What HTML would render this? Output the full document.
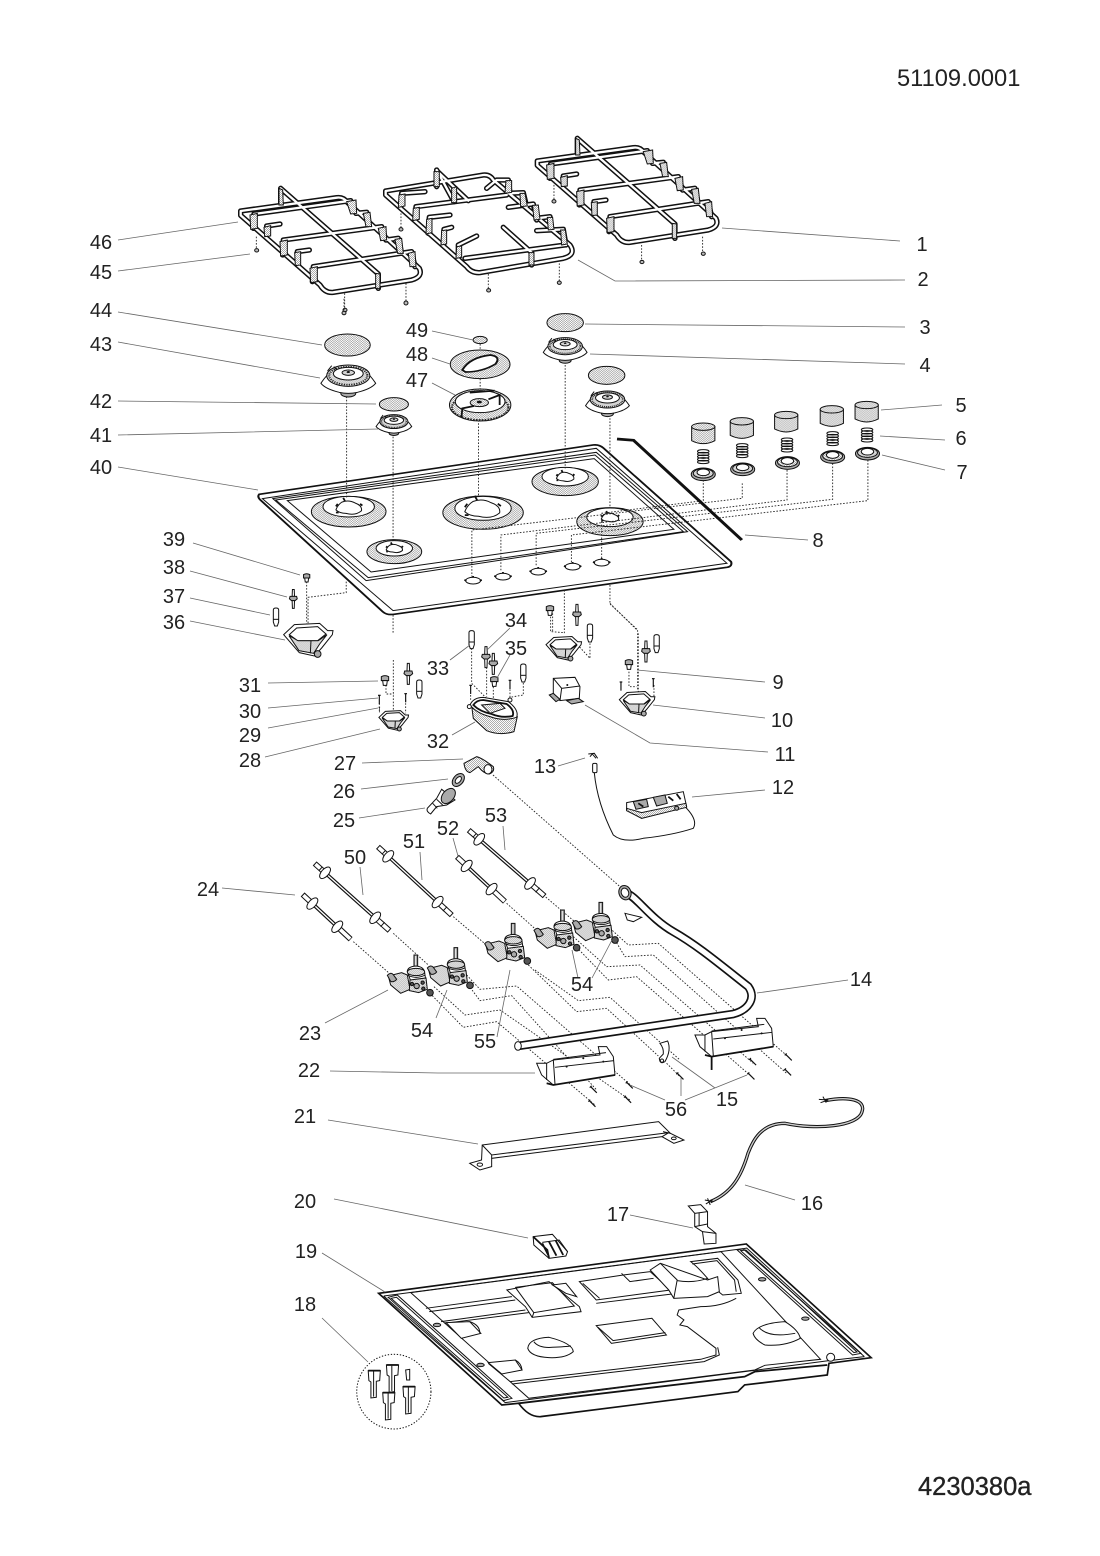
<!DOCTYPE html>
<html><head><meta charset="utf-8"><title>51109.0001</title>
<style>
html,body{margin:0;padding:0;background:#fff}
svg{display:block}
text{font-family:"Liberation Sans",sans-serif;fill:#222;font-size:20px;text-anchor:middle}
.t{font-size:23.7px;text-anchor:start}
.ll{stroke:#666;stroke-width:.8;fill:none}
.d{fill:none;stroke:#222;stroke-width:.9;stroke-dasharray:1.6 1.6;vector-effect:non-scaling-stroke}
.k{stroke:#111;stroke-width:1;vector-effect:non-scaling-stroke;fill:#fff}
.n{stroke:#111;stroke-width:1;vector-effect:non-scaling-stroke;fill:none}
.b{stroke:#111;stroke-width:1.8;vector-effect:non-scaling-stroke;fill:none}
.s{stroke:#111;stroke-width:1;vector-effect:non-scaling-stroke;fill:url(#st)}
.g{stroke:#111;stroke-width:1;vector-effect:non-scaling-stroke;fill:#aaa}
.x{stroke:#111;stroke-width:1;vector-effect:non-scaling-stroke;fill:#555}
</style></head><body>
<svg width="1100" height="1556" viewBox="0 0 1100 1556" xmlns="http://www.w3.org/2000/svg">
<defs>
<pattern id="st" patternUnits="userSpaceOnUse" width="6" height="6"><rect width="6" height="6" fill="#fff"/><rect width="3" height="3" fill="#aaa"/><rect x="3" y="3" width="3" height="3" fill="#aaa"/></pattern>

<g id="gL" fill="none" stroke-linejoin="round" stroke-linecap="round">
<path d="M32,243 L320,203 Q340,200 352,217 L568,415 Q580,440 545,450 L310,487 Q285,490 270,465 L32,256Z"/>
<path d="M70,295 L72,252 L362,212 L378,250"/>
<path d="M158,375 L160,330 L455,290 L468,330"/>
<path d="M247,455 L250,410 L545,365 L555,410"/>
<path d="M110,315 L110,288 L150,282"/>
<path d="M202,405 L202,365 L238,360"/>
<path d="M378,250 L410,247 L420,290"/>
<path d="M468,330 L505,325 L515,370"/>
<path d="M152,225 L152,175 L445,432 L445,475"/>
</g>
<g id="legL">
<path class="s" d="M60,255 L82,250 L82,295 L62,298Z M150,335 L172,330 L172,375 L152,378Z M240,415 L262,410 L262,455 L242,458Z M350,215 L378,210 L380,250 L362,252Z M445,295 L468,290 L470,330 L452,332Z M535,370 L555,365 L558,410 L540,410Z M102,292 L122,287 L122,318 L104,320Z M194,368 L212,365 L212,405 L196,407Z M147,225 L147,175 L158,180 L160,225Z M437,430 L450,432 L450,475 L437,475Z M400,250 L420,247 L425,290 L408,290Z M495,328 L515,325 L520,370 L503,370Z"/>
</g>

<g id="gM" fill="none" stroke-linejoin="round" stroke-linecap="round">
<path d="M467,183 L760,135 Q780,133 790,150 L1020,345 Q1040,375 1000,385 L750,428 Q725,430 710,410 L467,195Z"/>
<path d="M512,230 L515,190 L585,185 M620,120 L672,215 M770,175 L800,150 L835,150 L840,190"/>
<path d="M555,270 L558,230 L830,195 M835,190 L880,188 L890,230"/>
<path d="M595,310 L598,262 L660,255 M835,232 L910,222 L920,270"/>
<path d="M640,345 L642,298 L665,292 M920,265 L960,260 L965,300 M920,302 L1000,298 L1008,345"/>
<path d="M685,385 L685,345 L740,318 M705,385 L1005,345"/>
<path d="M620,170 L620,122 L715,212"/>
<path d="M820,292 L905,368 L905,405"/>
</g>
<g id="legM">
<path class="s" d="M505,232 L525,228 L525,192 L507,195Z M548,272 L568,268 L568,232 L550,235Z M588,312 L606,308 L606,265 L590,268Z M633,345 L650,342 L650,300 L635,302Z M678,385 L695,382 L695,348 L680,350Z M612,170 L628,170 L628,125 L612,125Z M665,218 L680,218 L680,170 L665,175Z M897,405 L912,405 L912,368 L897,368Z M825,190 L845,187 L845,152 L828,152Z M872,230 L892,228 L885,190 L870,190Z M912,270 L930,268 L925,225 L908,226Z M955,300 L972,298 L968,262 L952,262Z M995,345 L1012,342 L1006,300 L992,300Z"/>
</g>

<g id="burner">
<ellipse cx="0" cy="45" rx="18" ry="11" class="g"/>
<path class="k" d="M-66,15 Q-55,32 -22,42 Q0,48 22,42 Q55,32 66,15 Q60,3 52,-8 L-52,-8 Q-60,3 -66,15Z"/>
<ellipse cx="0" cy="-8" rx="52" ry="32" class="s"/>
<ellipse cx="0" cy="-8" rx="46" ry="27" fill="none" stroke="#222" stroke-width="5" stroke-dasharray="3 3"/>
<ellipse cx="0" cy="-14" rx="36" ry="19" class="k"/>
<ellipse cx="0" cy="-17" rx="15" ry="8" class="s"/>
<ellipse cx="0" cy="-19" rx="4" ry="3" fill="#111"/>
<path class="n" d="M-50,-22 L-40,-38 M-35,-35 L-28,-26"/>
</g>

<g id="knob">
<path class="s" d="M-28,-22 L-28,20 Q0,38 28,20 L28,-22Z"/>
<ellipse cx="0" cy="-22" rx="28" ry="11" class="s"/>
</g>
<g id="spring" fill="none">
<ellipse cx="0" cy="-14" rx="14" ry="5" class="n"/><ellipse cx="0" cy="-6" rx="14" ry="5" class="n"/><ellipse cx="0" cy="2" rx="14" ry="5" class="n"/><ellipse cx="0" cy="10" rx="14" ry="5" class="n"/><ellipse cx="0" cy="18" rx="14" ry="5" class="n"/>
</g>
<g id="kbase">
<ellipse cx="0" cy="3" rx="29" ry="19" class="g"/>
<ellipse cx="0" cy="0" rx="24" ry="14" class="s"/>
<ellipse cx="0" cy="-3" rx="15" ry="10" class="k"/>
</g>

<g id="flame">
<path class="k" d="M-28,6 Q-24,-6 -15,-12 Q0,-18 14,-10 Q30,-4 28,8 Q15,20 -6,14 Q-20,14 -28,6Z"/>
<path class="b" d="M-24,-8 L-28,-2 M25,-8 L30,-4 M-12,-22 L-8,-14 M-28,12 L-22,12"/>
</g>
<g id="hole">
<ellipse cx="0" cy="0" rx="18" ry="10" class="k"/>
<path class="b" d="M-21,-2 L-16,0 M21,-2 L16,0 M0,-14 L0,-9"/>
</g>

<g id="cup">
<path class="k" d="M-72,-18 L-25,36 L20,46 L42,22 L74,-18 L76,-30 L60,-30 L36,-52 L-40,-48Z"/>
<path class="s" d="M-56,-15 L-26,30 L18,38 L36,10 L58,-18 L32,0 L-28,0Z"/>
<path class="k" d="M-55,-18 L-33,-38 L30,-42 L55,-20 L30,0 L-30,0Z"/>
<path class="n" d="M10,0 L8,38"/>
<circle cx="30" cy="40" r="10" class="g"/>
</g>
<g id="elec">
<path class="k" d="M-3,-35 L3,-35 L4,-12 L-4,-12Z"/>
<path class="g" d="M-11,-12 L11,-12 L13,-4 L6,2 L-6,2 L-13,-4Z"/>
<path class="k" d="M-4,2 L4,2 L3,28 L-3,28Z"/>
</g>
<g id="cap"><path class="k" d="M-8,-22 Q-8,-28 0,-28 Q8,-28 8,-22 L8,14 L4,26 L-4,26 L-8,14Z"/><path class="n" d="M-8,6 L8,6"/></g>
<g id="bolt"><path class="g" d="M-11,-12 Q0,-18 11,-12 L11,0 L-11,0Z"/><path class="k" d="M-7,0 L7,0 L5,14 L-5,14Z"/></g>
<g id="scr"><path d="M0,-14 L0,12" stroke="#111" stroke-width="3.5"/><path d="M-4,-14 L4,-14" stroke="#111" stroke-width="3.5"/></g>

<g id="pL" stroke-linejoin="round">
<path d="M8,0 L55,0" stroke="#111" stroke-width="17"/><path d="M11,0 L53,0" stroke="#fff" stroke-width="11"/>
<path d="M55,0 L255,0" stroke="#111" stroke-width="11"/><path d="M55,0 L255,0" stroke="#fff" stroke-width="4"/>
<path d="M255,0 L310,0" stroke="#111" stroke-width="17"/><path d="M257,0 L307,0" stroke="#fff" stroke-width="11"/>
<ellipse cx="50" cy="0" rx="11" ry="21" class="k"/><ellipse cx="252" cy="0" rx="11" ry="21" class="k"/>
<path d="M282,-9 L282,9 M32,-8 L32,8" class="n"/>
</g>
<g id="pS" stroke-linejoin="round">
<path d="M8,0 L45,0" stroke="#111" stroke-width="17"/><path d="M11,0 L43,0" stroke="#fff" stroke-width="11"/>
<path d="M45,0 L150,0" stroke="#111" stroke-width="11"/><path d="M45,0 L150,0" stroke="#fff" stroke-width="4"/>
<path d="M150,0 L205,0" stroke="#111" stroke-width="17"/><path d="M152,0 L203,0" stroke="#fff" stroke-width="11"/>
<ellipse cx="48" cy="0" rx="11" ry="21" class="k"/><ellipse cx="150" cy="0" rx="11" ry="21" class="k"/>
</g>

<g id="valve">
<rect x="22" y="-75" width="11" height="38" class="g"/>
<path d="M27,-72 L27,-38" stroke="#fff" stroke-width="2"/>
<path class="k" d="M2,-25 Q2,-40 28,-42 Q52,-40 54,-22 L58,5 L14,8Z"/>
<ellipse cx="28" cy="-24" rx="26" ry="11" class="s"/>
<path class="n" d="M4,-14 Q28,-2 54,-14"/>
<path class="s" d="M-55,-12 L-15,-22 L2,-15 L10,28 L-18,40 L-48,15Z"/>
<path class="g" d="M-58,-14 Q-48,-25 -40,-16 L-30,-2 Q-38,8 -48,4Z"/>
<path class="s" d="M10,0 L58,-6 L62,28 L36,38 L8,32Z"/>
<circle cx="30" cy="18" r="8" class="g"/><circle cx="48" cy="8" r="5" class="x"/><circle cx="16" cy="12" r="5" class="x"/><circle cx="50" cy="26" r="5" class="x"/>
<circle cx="70" cy="38" r="10" class="x"/>
</g>

<g id="brk">
<path class="k" d="M740,700 L770,700 L790,690 L930,675 L925,650 L950,650 L970,680 L975,735 L790,765 L755,735Z"/>
<path class="n" d="M790,690 L795,762 M770,700 L770,750 M795,712 L972,692 M790,688 L948,668"/>
<circle cx="830" cy="710" r="3" fill="#111"/><circle cx="940" cy="695" r="3" fill="#111"/><circle cx="880" cy="685" r="3" fill="#111"/>
<path class="b" d="M770,760 L790,765 L975,735"/>
</g>
<g id="conn">
<path class="k" d="M0,0 L36,0 L34,30 L24,32 L24,80 L8,82 L8,34 L2,30Z"/>
<path class="n" d="M16,2 L16,78"/>
<path class="b" d="M0,0 L36,0"/>
</g>
</defs>
<rect width="1100" height="1556" fill="#fff"/>

<!-- GRATES -->
<g transform="translate(230,130) scale(.3333)">
<use href="#gL" stroke="#111" stroke-width="16"/><use href="#gL" stroke="#fff" stroke-width="7"/><use href="#legL"/>
<g transform="translate(890,-150)"><use href="#gL" stroke="#111" stroke-width="16"/><use href="#gL" stroke="#fff" stroke-width="7"/><use href="#legL"/></g>
<use href="#gM" stroke="#111" stroke-width="16"/><use href="#gM" stroke="#fff" stroke-width="7"/><use href="#legM"/>
<path class="d" d="M79,320V358 M344,490V540 M528,460V515 M513,250V295 M775,432V478 M988,400V455 M972,155V212 M1235,345V392 M1418,320V368"/>
<g fill="#bbb" stroke="#111" stroke-width="3">
<ellipse cx="80" cy="361" rx="6" ry="5"/><ellipse cx="528" cy="519" rx="6" ry="6"/><ellipse cx="513" cy="298" rx="6" ry="5"/><ellipse cx="776" cy="481" rx="6" ry="5"/><ellipse cx="988" cy="458" rx="6" ry="5"/><ellipse cx="972" cy="214" rx="6" ry="5"/><ellipse cx="1236" cy="396" rx="6" ry="5"/><ellipse cx="1420" cy="371" rx="6" ry="5"/>
</g>
</g>
<g fill="#bbb" stroke="#111" stroke-width="1"><ellipse cx="345" cy="310" rx="2" ry="1.7"/><ellipse cx="344" cy="313" rx="2" ry="1.7"/></g>
<path class="d" d="M344,310V298"/>

<!-- HOB AREA (zoom-2 space) -->
<g transform="translate(250,300) scale(.4147,.3333)">
<path d="M22,583 L828,435 Q842,433 852,444 L1160,785 Q1164,799 1150,802 L347,943 Q330,946 320,935 L25,600 Q17,590 22,583Z" fill="#fff" stroke="#111" stroke-width="5"/>
<path class="n" d="M30,596 L835,445 L1150,790 L345,932Z"/>
<path class="n" d="M55,596 L835,457 L1055,695 L280,842Z"/>
<path class="n" d="M62,600 L832,465 L1045,695 L285,833Z"/>
<path class="n" d="M90,602 L830,476 L1022,688 L292,816Z"/>
<g>
<ellipse cx="238" cy="635" rx="90" ry="46" class="s"/><ellipse cx="238" cy="620" rx="62" ry="31" class="k"/>
<ellipse cx="348" cy="755" rx="66" ry="36" class="s"/><ellipse cx="348" cy="745" rx="44" ry="23" class="k"/>
<ellipse cx="562" cy="638" rx="97" ry="50" class="s"/><ellipse cx="562" cy="625" rx="68" ry="36" class="k"/>
<ellipse cx="760" cy="545" rx="80" ry="42" class="s"/><ellipse cx="760" cy="530" rx="56" ry="28" class="k"/>
<ellipse cx="868" cy="665" rx="80" ry="42" class="s"/><ellipse cx="868" cy="652" rx="56" ry="28" class="k"/>
</g>
<use href="#flame" transform="translate(238,622) scale(1.1,1.3)"/>
<use href="#flame" transform="translate(348,745) scale(.7,.8)"/>
<use href="#flame" transform="translate(560,625) scale(1.5,1.7)"/>
<use href="#flame" transform="translate(760,530) scale(.75,.9)"/>
<use href="#flame" transform="translate(868,652) scale(.75,.85)"/>
<use href="#hole" transform="translate(538,842)"/>
<use href="#hole" transform="translate(610,830)"/>
<use href="#hole" transform="translate(695,815)"/>
<use href="#hole" transform="translate(778,800)"/>
<use href="#hole" transform="translate(848,788)"/>
<path class="d" d="M233,280V592 M345,410V725 M551,360V590 M760,195V505 M868,345V625"/>
<path class="d" d="M1093,540V602L848,640V775 M1187,550V595L535,690V830 M1295,510V600L605,705V815 M1405,490V598L690,700V800 M1490,480V602L775,705V790"/>
<path class="d" d="M232,845V878L140,892V1000 M345,945V1000 M758,870V1000 M868,855V912L935,990"/>
<path d="M885,417 L925,421 L1186,720" fill="none" stroke="#111" stroke-width="8"/>
<!-- caps & burners -->
<ellipse cx="235" cy="135" rx="55" ry="33" class="s"/>
<ellipse cx="347" cy="313" rx="35" ry="20" class="s"/>
<ellipse cx="760" cy="68" rx="44" ry="27" class="s"/>
<ellipse cx="860" cy="226" rx="44" ry="27" class="s"/>
<use href="#burner" transform="translate(237,235)"/>
<use href="#burner" transform="translate(347,370) scale(.65)"/>
<use href="#burner" transform="translate(760,145) scale(.8)"/>
<use href="#burner" transform="translate(862,305) scale(.8)"/>
<!-- 47-49 -->
<ellipse cx="555" cy="120" rx="17" ry="11" class="s"/>
<path class="d" d="M555,132V150 M555,236V268"/>
<ellipse cx="555" cy="193" rx="72" ry="43" class="s"/>
<path d="M512,210 Q530,172 580,165 Q606,170 592,192 Q560,216 520,216Z" fill="#fff" stroke="#111" stroke-width="5"/>
<ellipse cx="555" cy="315" rx="74" ry="48" class="s"/>
<ellipse cx="555" cy="322" rx="68" ry="38" fill="none" stroke="#222" stroke-width="5" stroke-dasharray="4 3"/>
<ellipse cx="555" cy="305" rx="60" ry="33" class="k"/>
<ellipse cx="553" cy="308" rx="22" ry="12" class="s"/>
<ellipse cx="553" cy="306" rx="6" ry="4" fill="#111"/>
<path class="b" d="M510,352 L512,325 L540,318 M575,298 L602,285 L602,315 M530,278 L590,272"/>
<!-- knobs -->
<use href="#knob" transform="translate(1093,402)"/><use href="#knob" transform="translate(1186,386)"/><use href="#knob" transform="translate(1293,367)"/><use href="#knob" transform="translate(1403,350)"/><use href="#knob" transform="translate(1487,337)"/>
<use href="#spring" transform="translate(1093,468)"/><use href="#spring" transform="translate(1187,450)"/><use href="#spring" transform="translate(1295,433)"/><use href="#spring" transform="translate(1405,414)"/><use href="#spring" transform="translate(1488,403)"/>
<use href="#kbase" transform="translate(1093,520)"/><use href="#kbase" transform="translate(1188,505)"/><use href="#kbase" transform="translate(1296,486)"/><use href="#kbase" transform="translate(1405,468)"/><use href="#kbase" transform="translate(1489,458)"/>
</g>

<!-- MIDDLE (zoom-3 space) -->
<g transform="translate(260,590) scale(.3333)">
<path class="d" d="M140,-25V100 M872,80V125L912,128 M990,160V205L935,145 M878,70V125 M1107,245V290L1130,290 M1135,130V305 M1182,285V320 M400,210 V370 M378,285V312L400,312 M437,330V370 M358,340V362 M632,315V330 M750,298V322L790,315V278 M635,175V280L680,325 M700,290V330 M680,232V320"/>
<path class="d" d="M1050,40L1133,122V300"/>
<use href="#cup" transform="translate(143,152)"/>
<use href="#cup" transform="translate(910,177) scale(.72)"/>
<use href="#cup" transform="translate(1130,342) scale(.72)"/>
<use href="#cup" transform="translate(400,393) scale(.6)"/>
<use href="#bolt" transform="translate(140,-36) scale(.85)"/>
<use href="#elec" transform="translate(100,30) scale(.9)"/>
<use href="#elec" transform="translate(445,255)"/>
<use href="#elec" transform="translate(678,205)"/>
<use href="#elec" transform="translate(700,225)"/>
<use href="#elec" transform="translate(951,78)"/>
<use href="#elec" transform="translate(1158,188)"/>
<use href="#cap" transform="translate(48,82)"/>
<use href="#cap" transform="translate(478,298)"/>
<use href="#cap" transform="translate(635,150)"/>
<use href="#cap" transform="translate(790,250)"/>
<use href="#cap" transform="translate(990,130)"/>
<use href="#cap" transform="translate(1190,162)"/>
<use href="#bolt" transform="translate(375,272)"/>
<use href="#bolt" transform="translate(703,275)"/>
<use href="#bolt" transform="translate(870,62)"/>
<use href="#bolt" transform="translate(1107,224)"/>
<use href="#scr" transform="translate(632,300)"/><use href="#scr" transform="translate(750,285)"/><use href="#scr" transform="translate(437,325)"/><use href="#scr" transform="translate(358,330)"/><use href="#scr" transform="translate(358,360) scale(.6)"/><use href="#scr" transform="translate(1083,290)"/><use href="#scr" transform="translate(1180,280)"/>
<!-- 32 -->
<path class="s" d="M636,355 L640,385 L680,422 Q720,438 762,425 L772,380 L636,355Z"/>
<path class="k" d="M630,345 Q640,322 670,322 L745,335 Q778,360 770,382 Q730,395 690,380 Q650,370 630,345Z"/>
<path class="b" d="M640,345 Q650,330 670,330 L740,342 Q765,360 758,378 Q725,385 695,372 Q660,365 640,345Z"/>
<path class="s" d="M665,345 L720,340 L735,355 L690,370Z"/>
<circle cx="628" cy="350" r="6" class="k"/><circle cx="750" cy="330" r="6" class="k"/>
<!-- 11 -->
<path class="k" d="M880,265 L945,262 L960,290 L958,325 L900,332 L880,310Z"/>
<path class="n" d="M880,265 L905,295 L960,288 M905,295 L900,332"/>
<path class="g" d="M868,315 L880,310 L900,328 L888,335Z"/>
<path class="g" d="M920,332 L955,325 L970,335 L935,342Z"/>
<circle cx="922" cy="285" r="3" fill="#111"/>
<!-- 27 26 25 -->
<path class="s" d="M612,520 L650,500 Q668,505 700,530 Q705,545 688,552 Q672,552 655,530 L630,548 Q615,545 612,520Z"/>
<ellipse cx="684" cy="538" rx="12" ry="14" class="k"/>
<ellipse cx="595" cy="570" rx="15" ry="22" transform="rotate(40 595 570)" class="g"/>
<ellipse cx="595" cy="570" rx="7" ry="12" transform="rotate(40 595 570)" class="k"/>
<path class="k" d="M545,598 L585,630 L560,645 L530,650 L512,672 Q498,665 502,655 L530,625Z"/>
<path class="n" d="M518,640 L532,655 M530,628 L548,645"/>
<ellipse cx="565" cy="618" rx="17" ry="26" transform="rotate(40 565 618)" class="g"/>
<!-- 13, cable -->
<path class="n" d="M985,492 L1003,490 L1013,505 M990,500 L997,492 L1008,505"/>
<rect x="998" y="520" width="13" height="28" rx="4" class="k"/>
<path class="n" d="M1003,548 Q1012,640 1060,735 Q1090,760 1150,745 Q1240,735 1300,715 Q1315,690 1275,650"/>
<!-- 12 -->
<path class="k" d="M1100,638 L1270,605 L1280,650 L1145,685 L1100,660Z"/>
<path class="s" d="M1100,655 L1145,668 L1278,640 L1280,652 L1145,685 L1100,662Z"/>
<path class="g" d="M1120,635 L1160,628 L1165,650 L1128,658Z"/>
<path class="g" d="M1180,622 L1215,615 L1222,640 L1190,648Z"/>
<path class="b" d="M1225,620 L1240,632 M1250,612 L1262,628 M1135,640 L1150,650"/>
<circle cx="1250" cy="655" r="6" class="g"/>
</g>

<!-- VALVES / PIPES (zoom-4 space) -->
<g transform="translate(290,830) scale(.3333)">
<path class="d" d="M609,-165 L990,170 M190,335 L298,430 M310,310 L415,405 M490,260 L595,350 M650,220 L745,305 M760,195 L860,280"/>
<path class="d" d="M420,490L520,592L620,575L915,825 M432,470L525,555L630,540L1020,810 M535,465L570,512L665,497L920,780 M530,435L570,478L680,468L1025,768 M715,405L860,545L950,535L1105,678 M1130,700L1170,740 M735,420L865,512L960,502L1170,690 M860,352L955,450L1040,440L1385,740 M850,320L950,410L1050,405L1390,700 M975,330L1005,380L1090,375L1490,730 M960,295L1015,345L1105,340L1500,685"/>
<use href="#pS" transform="translate(32,188) rotate(43)"/>
<use href="#pL" transform="translate(68,95) rotate(41.9)"/>
<use href="#pL" transform="translate(258,45) rotate(42.8)"/>
<use href="#pS" transform="translate(495,75) rotate(43)"/>
<g transform="translate(530,-5) rotate(41)"><use href="#pL"/></g>
<use href="#valve" transform="translate(350,450)"/>
<use href="#valve" transform="translate(470,428)"/>
<use href="#valve" transform="translate(642,355)"/>
<use href="#valve" transform="translate(790,315)"/>
<use href="#valve" transform="translate(905,292)"/>
<!-- manifold 14 -->
<path d="M1010,190 C1040,200 1080,265 1150,305 C1220,345 1280,395 1375,470 C1400,505 1375,540 1330,552 L684,648" fill="none" stroke="#111" stroke-width="26"/>
<path d="M1010,190 C1040,200 1080,265 1150,305 C1220,345 1280,395 1375,470 C1400,505 1375,540 1330,552 L684,648" fill="none" stroke="#fff" stroke-width="16"/>
<ellipse cx="684" cy="648" rx="10" ry="13" class="k"/>
<ellipse cx="1005" cy="188" rx="18" ry="22" class="g" transform="rotate(-20 1005 188)"/>
<ellipse cx="1005" cy="188" rx="11" ry="14" class="k" transform="rotate(-20 1005 188)"/>
<path class="k" d="M1005,250 L1055,262 L1030,275 L1012,270Z"/>
<use href="#brk"/>
<use href="#brk" transform="translate(475,-85)"/>
<path class="b" d="M1265,680V720"/>
<path class="k" d="M1110,640 L1133,633 Q1145,660 1125,695 Q1110,705 1108,685 L1120,672 Q1122,655 1110,640Z"/>
<circle cx="1116" cy="692" r="5" class="k"/>
<g transform="translate(912,780) rotate(-45)"><use href="#scr"/></g>
<g transform="translate(1015,810) rotate(-45)"><use href="#scr"/></g>
<g transform="translate(1020,767) rotate(-45)"><use href="#scr"/></g>
<g transform="translate(908,822) rotate(-45)"><use href="#scr"/></g>
<g transform="translate(1172,740) rotate(-45)"><use href="#scr"/></g>
<g transform="translate(1390,697) rotate(-45)"><use href="#scr"/></g>
<g transform="translate(1385,740) rotate(-45)"><use href="#scr"/></g>
<g transform="translate(1497,683) rotate(-45)"><use href="#scr"/></g>
<g transform="translate(1495,728) rotate(-45)"><use href="#scr"/></g>
</g>

<!-- BOTTOM (zoom-5 space) -->
<g transform="translate(350,1090) scale(.3373,.3333)">
<!-- 21 -->
<path class="k" d="M392,165 L915,95 L950,130 L990,150 L960,160 L925,140 L420,205 L420,230 L385,240 L355,220 L390,210Z"/>
<path class="n" d="M392,165 L420,195 L945,128 M420,195 L420,205 M928,125 L950,130 M925,140 L945,128"/>
<ellipse cx="385" cy="224" rx="8" ry="5" class="n"/><ellipse cx="960" cy="145" rx="7" ry="4" class="n"/>
<!-- 16 -->
<path d="M1408,32 C1480,18 1530,30 1518,65 C1508,110 1380,120 1290,100 C1220,100 1195,150 1180,190 C1160,260 1130,310 1068,335" fill="none" stroke="#111" stroke-width="10"/>
<path d="M1408,32 C1480,18 1530,30 1518,65 C1508,110 1380,120 1290,100 C1220,100 1195,150 1180,190 C1160,260 1130,310 1068,335" fill="none" stroke="#ccc" stroke-width="4"/>
<path d="M1390,28L1418,30M1395,38L1418,30M1402,20L1412,38 M1052,330L1075,335M1055,342L1075,330M1060,325L1068,345" stroke="#111" stroke-width="3"/>
<!-- 17 -->
<path class="k" d="M1003,348 L1040,344 L1060,365 L1060,410 L1085,430 L1085,460 L1050,462 L1045,425 L1022,410 L1022,370Z"/>
<path class="n" d="M1022,370 L1060,365 M1035,368 L1035,408 M1022,410 L1060,402 M1045,425 L1085,430"/>
<!-- 20 -->
<path class="k" d="M543,440 L600,433 L645,485 L640,498 L590,505 L545,465Z"/>
<path class="b" d="M570,460 L590,500 M590,455 L612,497 M610,452 L632,495 M543,440 L585,480 L590,505"/>
<path class="n" d="M570,457 L620,450 L645,485"/>
<!-- 19 tray -->
<path d="M85,610 L1175,462 L1545,803 L1420,820 L1415,855 L1170,885 L1150,905 L565,980 Q530,982 500,940 L450,945Z" fill="#fff" stroke="#111" stroke-width="5"/>
<path class="n" d="M100,618 L1165,476 L1525,800 M100,618 L460,938 L1420,812 L1525,800"/>
<path class="b" d="M1415,825 L1200,845 L1170,860 L500,940"/>
<path class="n" d="M113,622 L140,615 L480,925 L455,932Z M122,625 L138,622 L468,922 L456,924Z"/>
<path class="n" d="M1148,480 L1176,474 L1515,790 L1490,795Z M1158,482 L1174,480 L1503,786 L1494,788Z"/>
<path class="n" d="M180,608 L1100,485 L1395,808 L1230,826 L1200,840 L530,925 L180,608Z"/>
<path class="n" d="M1010,515 L1090,505 L1150,570 L1160,610 L1105,615 L1080,595 L1060,565 Q1030,530 1010,515Z"/>
<path class="n" d="M1015,522 L1088,512 L1140,570 L1145,605"/>
<path class="n" d="M225,655 L480,620 M235,665 L490,630 M270,695 L520,660 M280,700 L530,668"/>
<path class="k" d="M465,600 L590,575 L680,650 L685,665 L540,682 L520,650Z"/>
<path class="n" d="M490,592 L600,578 L665,648 L545,668 L540,682 M490,592 L545,668"/>
<path class="k" d="M600,585 L640,580 L672,620 L640,610Z"/>
<path class="k" d="M680,575 L810,555 L890,545 L950,600 L730,630Z"/>
<path class="n" d="M690,580 L740,625 M730,640 L955,612 M805,550 L830,575 L900,565"/>
<path class="k" d="M890,540 L920,520 L1060,570 L1090,560 L1095,605 L1060,620 L960,625 L945,600Z"/>
<path class="n" d="M920,520 L970,570 L960,625 M970,572 Q1020,580 1060,565"/>
<path class="k" d="M1145,625 Q1100,650 1040,650 L975,660 L970,675 L990,690 L978,705 L1000,710 L1085,775 L1085,795 L1040,808 L475,875 L410,820" fill="none"/>
<path class="n" d="M480,882 L1050,815 L1095,795 L1090,772"/>
<path class="k" d="M285,698 L355,695 L388,730 L330,745Z"/><path class="n" d="M355,695 Q385,705 385,730"/>
<path class="k" d="M410,818 L490,810 L510,840 L450,852Z"/><path class="n" d="M490,810 Q508,820 510,840"/>
<path class="k" d="M527,775 Q530,745 590,742 Q660,760 662,785 Q640,805 590,803 Q535,800 527,775Z"/>
<path class="n" d="M545,755 Q560,775 600,772 Q640,770 655,768"/>
<path class="k" d="M730,707 L895,685 L938,735 L775,760Z"/><path class="n" d="M735,712 L780,752 L935,728"/>
<path class="k" d="M1195,730 Q1210,700 1290,695 Q1330,720 1335,745 Q1290,770 1230,765 Q1200,750 1195,730Z"/><path class="n" d="M1212,712 Q1240,745 1320,730"/>
<ellipse cx="258" cy="705" rx="11" ry="5" class="g"/><ellipse cx="387" cy="825" rx="11" ry="5" class="g"/><ellipse cx="1222" cy="568" rx="11" ry="5" class="g"/><ellipse cx="1350" cy="686" rx="11" ry="5" class="g"/>
<circle cx="1425" cy="802" r="12" class="k"/>
<!-- 18 -->
<ellipse cx="130" cy="905" rx="110" ry="112" fill="none" stroke="#111" stroke-width="3" stroke-dasharray="4 5"/>
<use href="#conn" transform="translate(54,842)"/>
<use href="#conn" transform="translate(108,825)"/>
<use href="#conn" transform="translate(97,908)"/>
<use href="#conn" transform="translate(157,890)"/>
<path class="n" d="M165,840 L177,838 L177,870 L168,870Z"/>
</g>

<!-- LEADER LINES -->
<g class="ll">
<path d="M722,228L900,241M578,260L615,281L905,280M585,324L905,327M590,354L905,364M881,410L942,405M880,436L945,440M882,455L945,470M745,535L808,540M637,670L765,682M653,705L765,718M585,705L650,743L768,752M692,797L765,790M558,766L585,758M757,993L848,980"/>
<path d="M745,1185L795,1200M630,1215L693,1228M322,1318L368,1362M322,1253L385,1292M334,1199L528,1238M328,1120L478,1144M330,1071L438,1073L535,1073M325,1023L388,990M222,888L295,895M359,818L425,808M361,789L448,779M362,763L463,759"/>
<path d="M265,757L380,729M268,728L378,708M268,708L378,698M268,683L378,681M452,735L475,722M450,660L470,645M510,628L487,650M510,655L497,678M190,621L285,640M190,598L270,615M190,571L287,597M193,543L300,575"/>
<path d="M118,467L258,490M118,435L378,429M118,401L376,404M118,342L320,378M118,312L322,345M118,271L250,254M118,240L238,222M432,383L455,395M432,358L450,364M432,331L473,340"/>
<path d="M360,867L363,895M420,852L422,880M453,838L458,856M503,826L505,850M436,1018L447,990M578,978L572,950M592,978L612,940M497,1037L510,970"/>
<path d="M665,1100L630,1085M685,1100L747,1075M681,1096V1078M715,1088L672,1057"/>
</g>

<!-- LABELS -->
<text class="t" x="897" y="86">51109.0001</text>
<text class="t" x="918" y="1495" style="font-size:25.5px;stroke:#222;stroke-width:.35">4230380a</text>
<g>
<text x="922" y="251">1</text><text x="923" y="286">2</text><text x="925" y="334">3</text><text x="925" y="372">4</text><text x="961" y="412">5</text><text x="961" y="445">6</text><text x="962" y="479">7</text><text x="818" y="547">8</text><text x="778" y="689">9</text><text x="782" y="727">10</text><text x="785" y="761">11</text><text x="783" y="794">12</text><text x="545" y="773">13</text><text x="861" y="986">14</text><text x="727" y="1106">15</text><text x="812" y="1210">16</text><text x="618" y="1221">17</text><text x="305" y="1311">18</text><text x="306" y="1258">19</text><text x="305" y="1208">20</text><text x="305" y="1123">21</text><text x="309" y="1077">22</text><text x="310" y="1040">23</text><text x="208" y="896">24</text><text x="344" y="827">25</text><text x="344" y="798">26</text><text x="345" y="770">27</text><text x="250" y="767">28</text><text x="250" y="742">29</text><text x="250" y="718">30</text><text x="250" y="692">31</text><text x="438" y="748">32</text><text x="438" y="675">33</text><text x="516" y="627">34</text><text x="516" y="655">35</text><text x="174" y="629">36</text><text x="174" y="603">37</text><text x="174" y="574">38</text><text x="174" y="546">39</text><text x="101" y="474">40</text><text x="101" y="442">41</text><text x="101" y="408">42</text><text x="101" y="351">43</text><text x="101" y="317">44</text><text x="101" y="279">45</text><text x="101" y="249">46</text><text x="417" y="387">47</text><text x="417" y="361">48</text><text x="417" y="337">49</text><text x="355" y="864">50</text><text x="414" y="848">51</text><text x="448" y="835">52</text><text x="496" y="822">53</text><text x="582" y="991">54</text><text x="422" y="1037">54</text><text x="485" y="1048">55</text><text x="676" y="1116">56</text>
</g>
</svg>
</body></html>
